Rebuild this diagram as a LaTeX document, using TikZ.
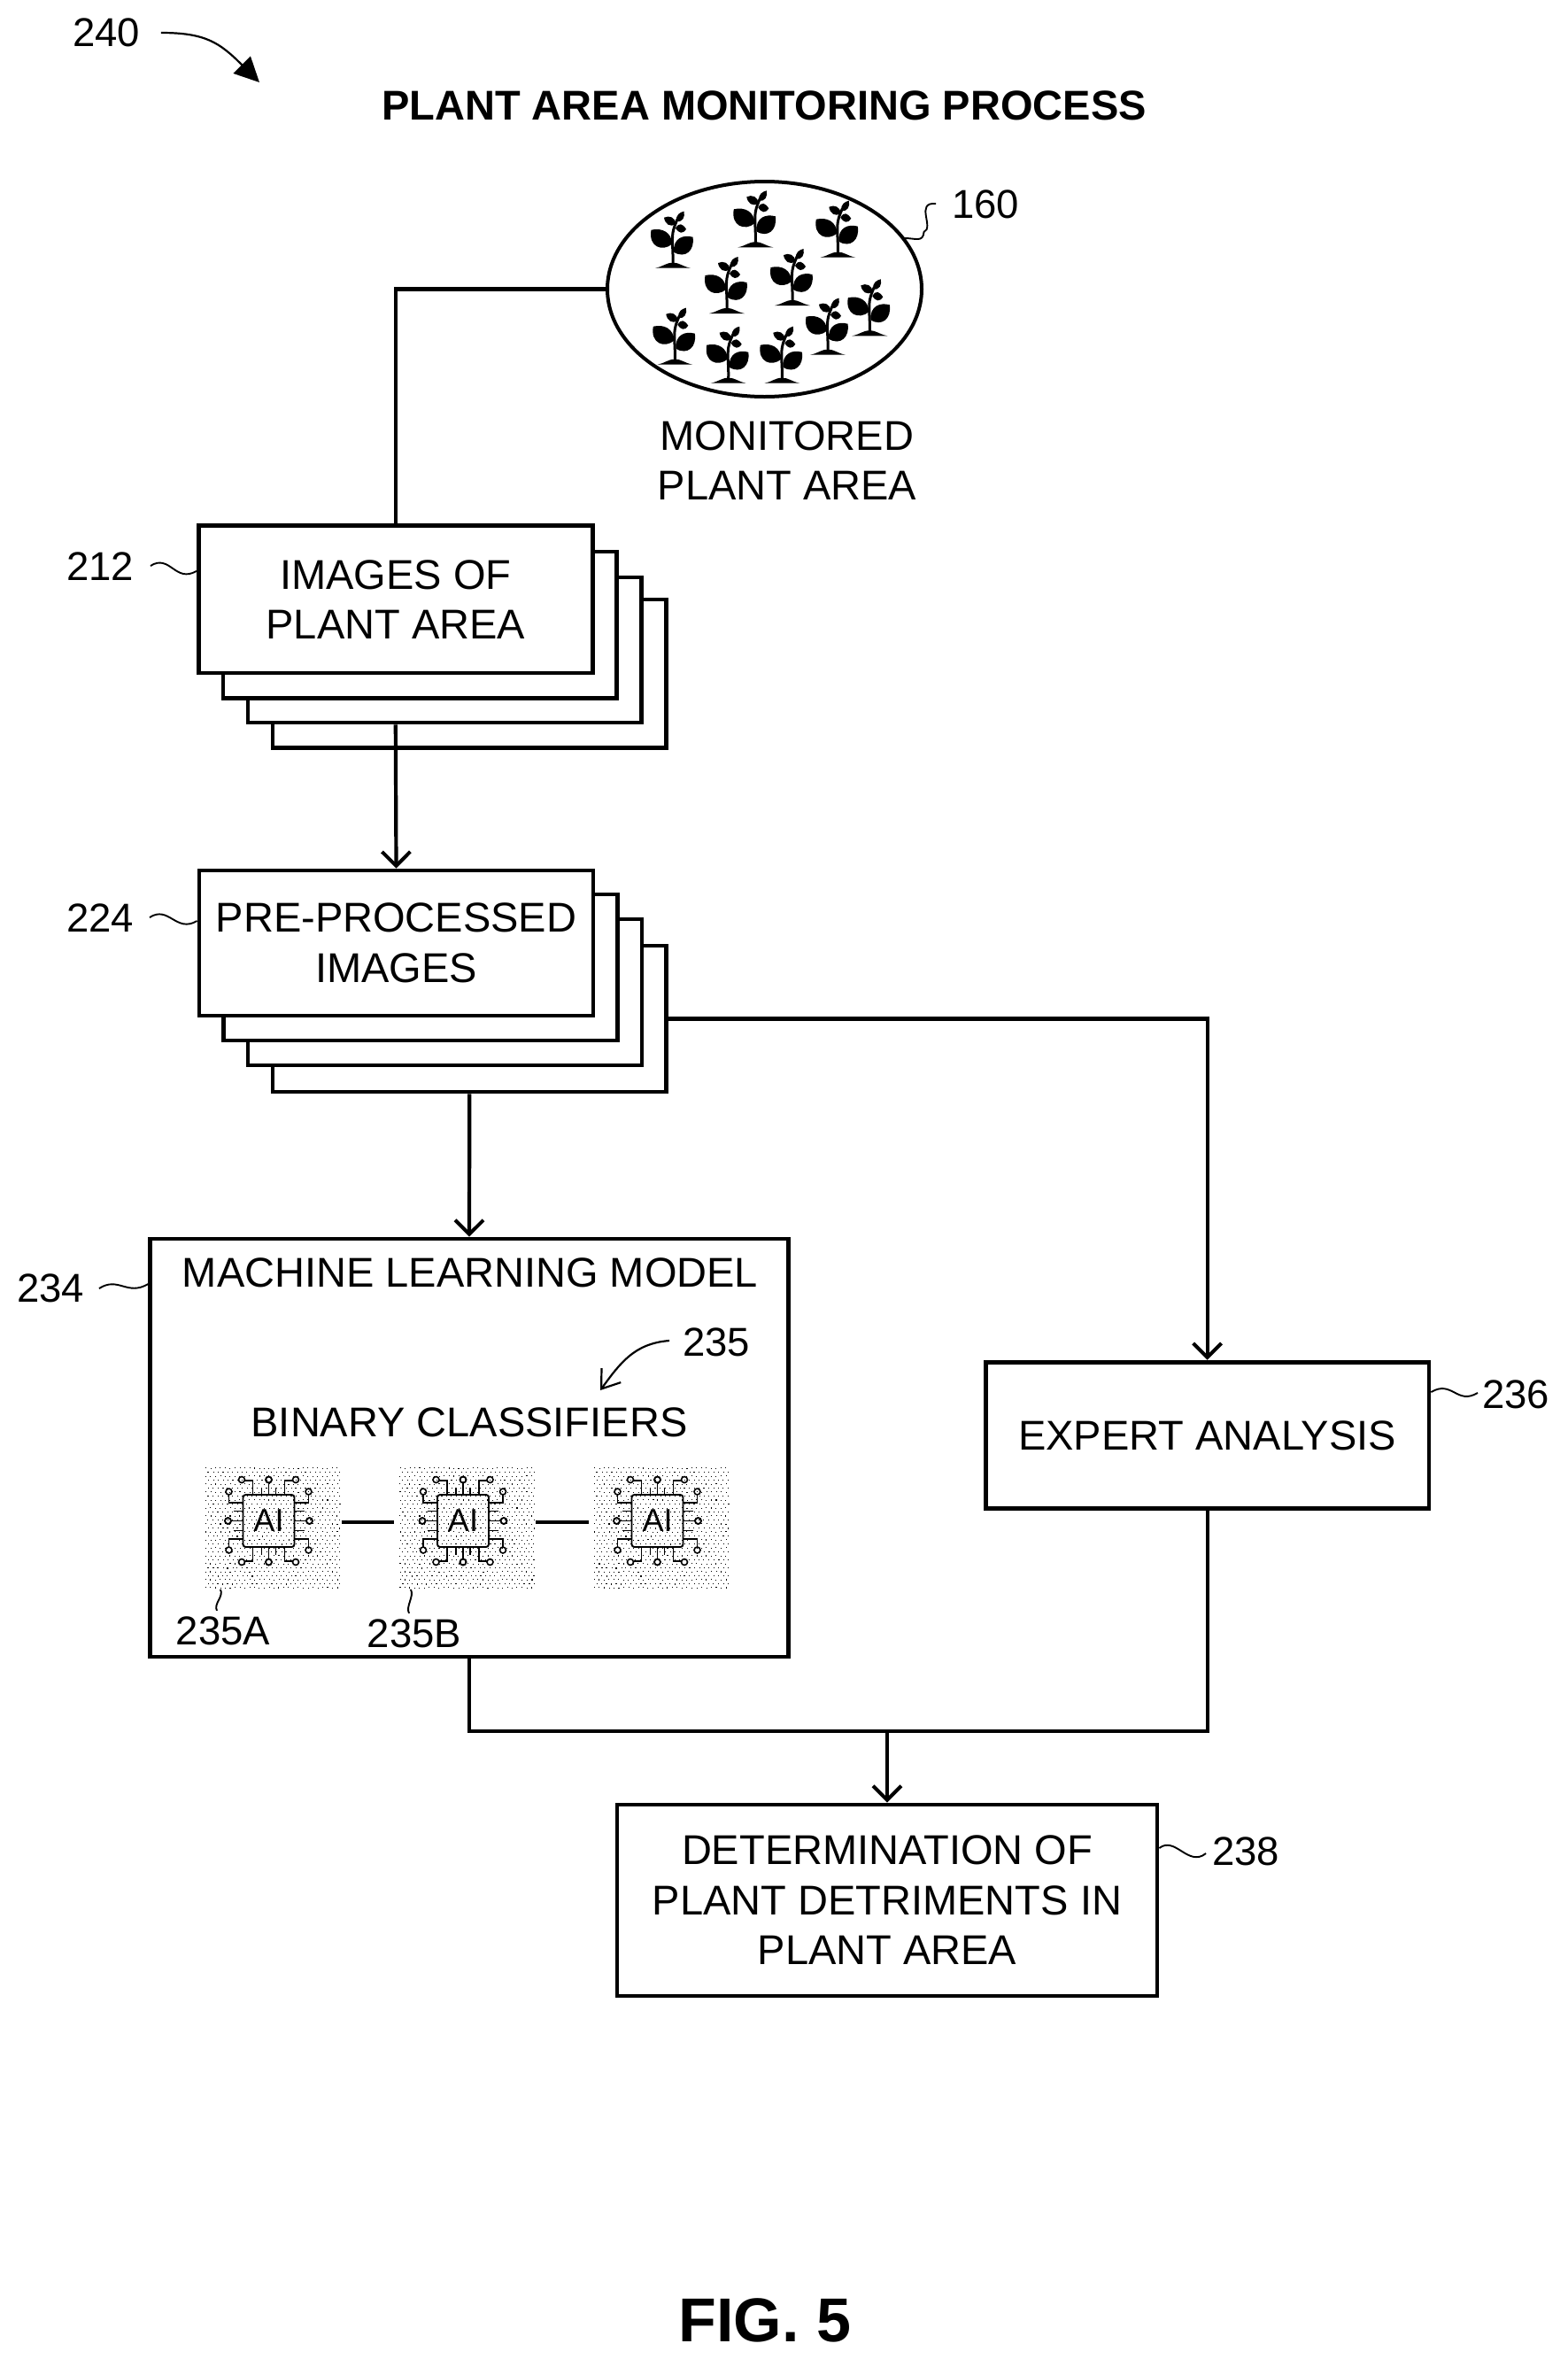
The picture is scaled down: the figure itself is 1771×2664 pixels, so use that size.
\documentclass[tikz,border=0pt]{standalone}
\usepackage{fontspec}
\setmainfont{Liberation Sans}
\usetikzlibrary{arrows.meta,shapes.geometric,calc}
\tikzset{
  x=1pt,y=-1pt,
  every node/.style={inner sep=0pt,outer sep=0pt},
  boxtext/.style={font=\fontsize{47}{56.5}\selectfont,align=center},
  reflabel/.style={font=\fontsize{45.5}{54}\selectfont},
  flowbox/.style={draw=black,line width=4.8pt,fill=white,rectangle,boxtext,outer sep=2.4pt},
  conn/.style={draw=black,line width=4.2pt},
  arr/.style={conn,-{Straight Barb[length=16pt,width=32pt,line width=4pt]}},
  sq/.style={draw=black,line width=1.9pt},
  plant/.pic={
    \fill (-20,0) .. controls (-10,-2) and (-8,-6) .. (0,-6) .. controls (8,-6) and (10,-2) .. (20,0) -- cycle;
    \draw[line width=3pt] (0,-5) .. controls (0.5,-20) and (-1.5,-30) .. (0,-40) .. controls (1,-46) and (3,-50) .. (5,-55);
    \fill (-1,-27) .. controls (-12,-18) and (-28,-24) .. (-24.5,-43) .. controls (-12,-46) and (-1,-40) .. (-1,-27) -- cycle;
    \fill (1,-18) .. controls (14,-10) and (25,-20) .. (22.5,-35) .. controls (12,-38) and (0,-34) .. (1,-18) -- cycle;
    \fill (3,-50) .. controls (-3,-45) and (-9,-50) .. (-10,-57) .. controls (-4,-60) and (3,-57) .. (3,-50) -- cycle;
    \fill (3,-45) .. controls (7,-52) and (11,-50) .. (15,-44) .. controls (11,-38) and (7,-39) .. (3,-45) -- cycle;
    \fill (4,-53) .. controls (3,-60) and (8,-63) .. (12.5,-64) .. controls (14,-58) and (11,-51) .. (4,-53) -- cycle;
  },
  aichip/.pic={
    \pgfmathsetseed{17}
    \foreach \r in {0,...,30}{
      \foreach \c in {0,...,27}{
        \pgfmathsetmacro\dx{-72+\c*5.5+mod(\r,2)*2.75+0.9*rnd}
        \pgfmathsetmacro\dy{-60.5+\r*4.5+0.9*rnd}
        \fill (\dx,\dy) rectangle +(1.1,1.1);
      }
    }
    \draw[line width=1.9pt,rounded corners=3pt] (-29,-29.5) rectangle (29,29.5);
    \node[font=\fontsize{36}{36}\selectfont] (-t) at (0,0) {AI};
    \foreach \sx/\sy in {1/1,-1/1,1/-1,-1/-1}{
      \begin{scope}[xscale=\sx,yscale=\sy,line width=1.6pt]
        \draw (29,-20.5) -- (45,-20.5) -- (45,-29.5);
        \draw (45,-33) circle[radius=3.5];
        \draw (29,-11) -- (40,-11);
        \draw (18,-29.5) -- (18,-45.5) -- (27,-45.5);
        \draw (30.5,-46.5) circle[radius=3.5];
        \draw (8,-29.5) -- (8,-38);
        \draw (29,0) -- (42.5,0);
        \draw (46,0) circle[radius=3.5];
        \draw (0,-29.5) -- (0,-43);
        \draw (0,-46.5) circle[radius=3.5];
      \end{scope}
    }
    \coordinate (-l) at (-78,1.5);
    \coordinate (-r) at (82,1.5);
  }
}
\begin{document}
\begin{tikzpicture}
\useasboundingbox (0,0) rectangle (1771,2664);
\fill[white] (0,0) rectangle (1771,2664);

% titles
\node[font=\fontsize{47}{55}\bfseries\selectfont] (title) at (863,119) {PLANT AREA MONITORING PROCESS};
\node[font=\fontsize{70}{80}\bfseries\selectfont] (fig) at (864,2620) {FIG. 5};
\node[reflabel] (l240) at (120,37) {240};
\coordinate (t240) at (293,93);
\draw[line width=2.2pt,-{Triangle[length=28pt,width=27pt]}] ([xshift=24pt]l240.east) .. controls +(50,0) and +(-45,-45) .. (t240);

% monitored plant area
\node[ellipse,draw=black,line width=4pt,minimum width=355pt,minimum height=243pt] (area) at (863.5,326.5) {};
\foreach \px/\py [count=\n] in {
  760/302.7, 853.3/279.3, 946.3/290.7, 821/354, 895/345,
  982.3/379.3, 935/400.7, 762.3/411.7, 822.7/432.7, 883.3/432.7}{
  \pic (plant\n) at (\px,\py) {plant};
}
\node[font=\fontsize{47}{55.5}\selectfont,align=center] (areatext) at (889,520) {MONITORED\\PLANT AREA};
\node[reflabel] (l160) at (1113,231) {160};
\coordinate (e160) at (1022,269);
\draw[sq] ([xshift=-18pt,yshift=1pt]l160.west) .. controls +(-24,-2) and +(12,-5) .. ($(l160.west)!0.5!(e160)+(-5,12)$) .. controls +(-1,12) and +(12,0) .. (e160);

% images stack
\node[flowbox,minimum width=444.7pt,minimum height=167.3pt] (n212d) at (530.3,760.7) {};
\node[flowbox,minimum width=444.3pt,minimum height=164pt] (n212c) at (502.2,734) {};
\node[flowbox,minimum width=444.7pt,minimum height=165.3pt] (n212b) at (474.3,705.7) {};
\node[flowbox,minimum width=445pt,minimum height=166.3pt] (n212) at (446.8,676.9) {IMAGES OF\\PLANT AREA};
\node[reflabel] (l212) at (113,640) {212};
\draw[sq] ([xshift=19pt,yshift=1pt]l212.east) .. controls +(22,-14) and +(-24,14) .. ([yshift=32pt]n212.west);

% pre-processed stack
\node[flowbox,minimum width=444.7pt,minimum height=165pt] (n224d) at (530.3,1150.5) {};
\node[flowbox,minimum width=445pt,minimum height=165pt] (n224c) at (502.5,1120.5) {};
\node[flowbox,minimum width=444.5pt,minimum height=165pt] (n224b) at (475,1092.5) {};
\node[flowbox,minimum width=445pt,minimum height=164pt] (n224) at (447.5,1065) {PRE-PROCESSED\\IMAGES};
\node[reflabel] (l224) at (113,1037) {224};
\draw[sq] ([xshift=18pt,yshift=1pt]l224.east) .. controls +(22,-14) and +(-24,14) .. ([yshift=25pt]n224.west);

% machine learning box
\node[flowbox,minimum width=720.5pt,minimum height=472pt] (ml) at (530,1635) {};
\node[boxtext] (mltext) at (531,1437) {MACHINE LEARNING MODEL};
\node[reflabel] (l234) at (57,1455) {234};
\draw[sq] ([xshift=17pt]l234.east) .. controls +(22,-14) and +(-24,14) .. ([yshift=185pt]ml.west);
\node[reflabel] (l235) at (809,1516) {235};
\coordinate (t235) at (678,1570);
\draw[line width=2.2pt,-{Straight Barb[length=19pt,width=27pt,line width=2.2pt]}] ([xshift=-15pt,yshift=2pt]l235.west) .. controls +(-40,3) and +(22,-30) .. (t235);
\node[boxtext] (bc) at (530,1606) {BINARY CLASSIFIERS};
\pic (c1) at (303.5,1717.5) {aichip};
\pic (c2) at (523,1717.5) {aichip};
\pic (c3) at (742.5,1717.5) {aichip};
\draw[line width=4.4pt] (c1-r) -- (c2-l);
\draw[line width=4.4pt] (c2-r) -- (c3-l);
\node[reflabel] (l235a) at (252,1842) {235A};
\node[reflabel] (l235b) at (468,1845) {235B};
\coordinate (s235a) at (249,1795);
\coordinate (s235b) at (464,1795);
\draw[sq] (s235a) .. controls +(4,8) and +(-4,-8) .. ([yshift=7pt,xshift=-7pt]l235a.north);
\draw[sq] (s235b) .. controls +(4,8) and +(-4,-8) .. ([yshift=7pt,xshift=-6pt]l235b.north);

% expert
\node[flowbox,minimum width=500.7pt,minimum height=165.7pt] (expert) at (1363.6,1621) {EXPERT ANALYSIS};
\node[reflabel] (l236) at (1712,1575) {236};
\draw[sq] ([yshift=49pt]expert.east) .. controls +(24,-14) and +(-24,14) .. ([xshift=-5pt,yshift=2pt]l236.west);

% determination
\node[flowbox,minimum width=610pt,minimum height=216pt] (n238) at (1002,2146) {DETERMINATION OF\\PLANT DETRIMENTS IN\\PLANT AREA};
\node[reflabel] (l238) at (1407,2091) {238};
\draw[sq] ([yshift=59pt]n238.east) .. controls +(18,-14) and +(-20,16) .. ([xshift=-7pt,yshift=-2pt]l238.west);

% connectors
\coordinate (merge) at (1002,1955);
\draw[conn] (area.west) -| (n212.north);
\draw[arr] (n212.south |- n212c.south) -- (n224.north);
\draw[arr] (n224d.south) -- (ml.north);
\draw[arr] (n224d.east) -| (expert.north);
\draw[conn] (ml.south) |- (merge) -| (expert.south);
\draw[arr] (merge) -- (n238.north);
\end{tikzpicture}
\end{document}
